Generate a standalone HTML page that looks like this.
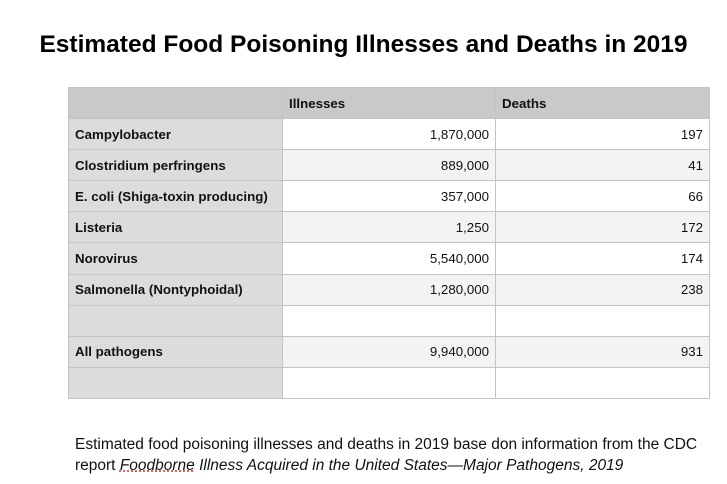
<!DOCTYPE html>
<html><head><style>
body{margin:0;width:727px;height:484px;background:#fff;font-family:"Liberation Sans",Arial,sans-serif;position:relative;overflow:hidden;color:#111}
h1{position:absolute;top:31px;left:0;width:727px;text-align:center;margin:0;font-size:24.5px;font-weight:bold;color:#000}
table{position:absolute;left:68px;top:87px;border-collapse:collapse;font-size:13.3px}
td{height:31.1px;border:1px solid #c4c4c4;padding:0 6px;box-sizing:border-box}
td:nth-child(1){width:214px;background:#dcdcdc;font-weight:bold}
td:nth-child(2){width:213px;text-align:right}
td:nth-child(3){width:214px;text-align:right}
tr:nth-child(odd) td:not(:first-child){background:#f3f3f3}
tr.h td{background:#c9c9c9!important;font-weight:bold;text-align:left}
.cap{position:absolute;left:75px;top:434px;font-size:15.5px;line-height:21px;color:#111}
.u{text-decoration:underline dotted #d33}
</style></head><body>
<h1>Estimated Food Poisoning Illnesses and Deaths in 2019</h1>
<table>
<tr class="h"><td></td><td>Illnesses</td><td>Deaths</td></tr>
<tr><td>Campylobacter</td><td>1,870,000</td><td>197</td></tr>
<tr><td>Clostridium perfringens</td><td>889,000</td><td>41</td></tr>
<tr><td>E. coli (Shiga-toxin producing)</td><td>357,000</td><td>66</td></tr>
<tr><td>Listeria</td><td>1,250</td><td>172</td></tr>
<tr><td>Norovirus</td><td>5,540,000</td><td>174</td></tr>
<tr><td>Salmonella (Nontyphoidal)</td><td>1,280,000</td><td>238</td></tr>
<tr><td></td><td></td><td></td></tr>
<tr><td>All pathogens</td><td>9,940,000</td><td>931</td></tr>
<tr><td></td><td></td><td></td></tr>
</table>
<div class="cap">Estimated food poisoning illnesses and deaths in 2019 base don information from the CDC<br>report <i><span class="u">Foodborne</span> Illness Acquired in the United States—Major Pathogens, 2019</i></div>
</body></html>
